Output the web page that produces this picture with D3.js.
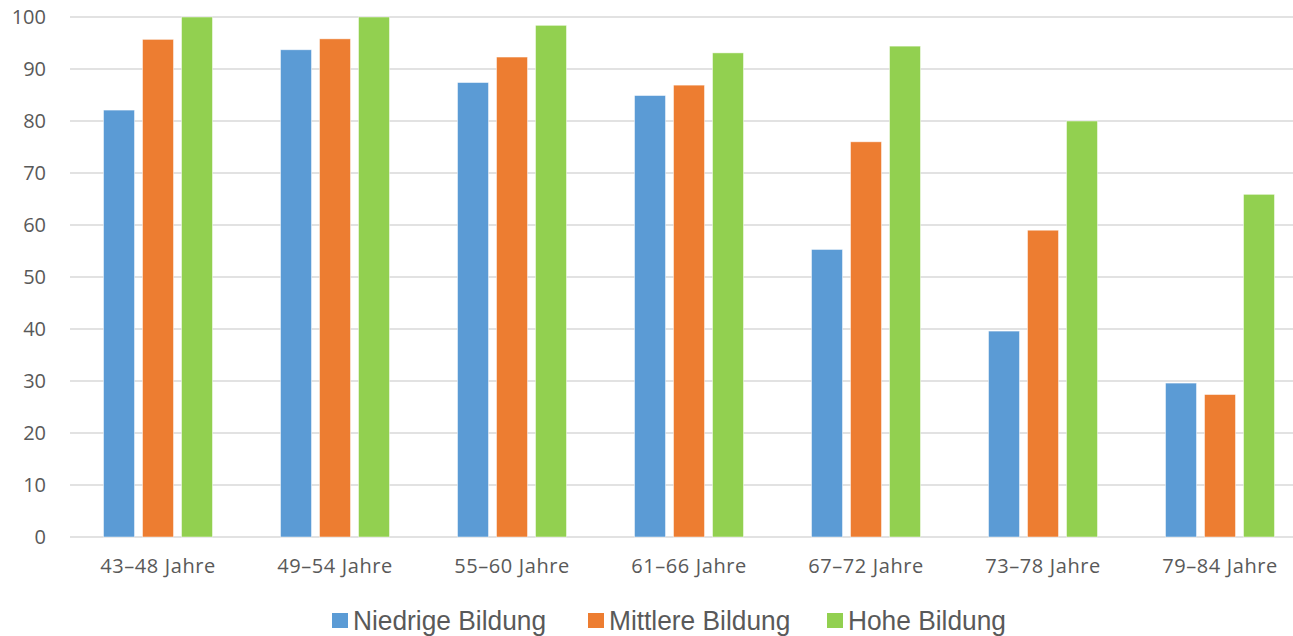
<!DOCTYPE html>
<html>
<head>
<meta charset="utf-8">
<script src="https://cdn.jsdelivr.net/npm/d3@7"></script>
<style>
  html, body { margin: 0; padding: 0; background: #fff; overflow: hidden; }
  svg { display: block; }
</style>
</head>
<body>
<svg id="chart" width="1293" height="636"></svg>
<script>
// Age groups along the x axis
const categories = ["43–48 Jahre", "49–54 Jahre", "55–60 Jahre", "61–66 Jahre", "67–72 Jahre", "73–78 Jahre", "79–84 Jahre"];

// Share per education level
const seriesNames = ["Niedrige Bildung", "Mittlere Bildung", "Hohe Bildung"];
const niedrig = [82.1, 93.7, 87.4, 84.9, 55.3, 39.6, 29.6];
const mittel  = [95.7, 95.8, 92.3, 86.9, 76.0, 59.0, 27.4];
const hoch    = [100, 100, 98.4, 93.1, 94.4, 80.0, 65.9];
const yTicks = [0, 10, 20, 30, 40, 50, 60, 70, 80, 90, 100];

const colors = ["#5B9BD5", "#ED7D31", "#92D050"];
const seriesValues = [niedrig, mittel, hoch];

const svg = d3.select("#chart");
const width = 1293, height = 636;
const plotLeft = 70, plotTop = 17, plotBottom = 537;

const x = d3.scaleBand().domain(categories).range([69.5, 1308.5]);
const xs = d3.scaleBand().domain(seriesNames).range([0, x.bandwidth()])
  .paddingInner(0.205).paddingOuter(0.872);
const y = d3.scaleLinear().domain([0, 100]).range([plotBottom, plotTop]);

const tickFont = "'Open Sans', 'Liberation Sans', sans-serif";

// Horizontal gridlines
svg.append("g")
  .selectAll("line")
  .data(yTicks)
  .join("line")
  .attr("x1", plotLeft).attr("x2", width)
  .attr("y1", d => y(d)).attr("y2", d => y(d))
  .attr("stroke", "#D9D9D9").attr("stroke-width", 1.4);

// Y axis labels
const yAxis = d3.axisLeft(y).tickValues(yTicks).tickSize(0).tickPadding(24);
svg.append("g")
  .attr("transform", `translate(${plotLeft},0)`)
  .call(yAxis)
  .call(g => g.select(".domain").remove())
  .call(g => g.selectAll("text")
    .attr("fill", "#595959")
    .style("font-family", tickFont)
    .style("font-size", "20px"));

// Bars
const groups = svg.append("g")
  .selectAll("g")
  .data(categories)
  .join("g")
  .attr("transform", d => `translate(${x(d)},0)`);

groups.selectAll("rect")
  .data((c, i) => seriesNames.map((s, k) => ({ s, k, v: seriesValues[k][i] })))
  .join("rect")
  .attr("x", d => xs(d.s))
  .attr("width", xs.bandwidth())
  .attr("y", d => y(d.v))
  .attr("height", d => plotBottom - y(d.v))
  .attr("fill", d => colors[d.k])
  .attr("stroke", "#fff")
  .attr("stroke-opacity", 0.6)
  .attr("stroke-width", 0.8);

// X axis labels
const xAxis = d3.axisBottom(x).tickSize(0).tickPadding(22);
svg.append("g")
  .attr("transform", `translate(0,${plotBottom})`)
  .call(xAxis)
  .call(g => g.select(".domain").remove())
  .call(g => g.selectAll("text")
    .attr("fill", "#595959")
    .style("font-family", tickFont)
    .style("font-size", "20px")
    .style("letter-spacing", "0.6px"));

// Legend
const legendX = [332, 588, 827];
const legend = svg.append("g")
  .selectAll("g")
  .data(seriesNames)
  .join("g")
  .attr("transform", (d, i) => `translate(${legendX[i]},0)`);
legend.append("rect")
  .attr("x", 0).attr("y", 613).attr("width", 16).attr("height", 15)
  .attr("fill", (d, i) => colors[i]);
legend.append("text")
  .attr("transform", "translate(21,629.5) scale(0.94,1)")
  .attr("fill", "#595959")
  .style("font-family", "'Liberation Sans', Arial, sans-serif")
  .style("font-size", "28px")
  .text(d => d);
</script>
</body>
</html>
